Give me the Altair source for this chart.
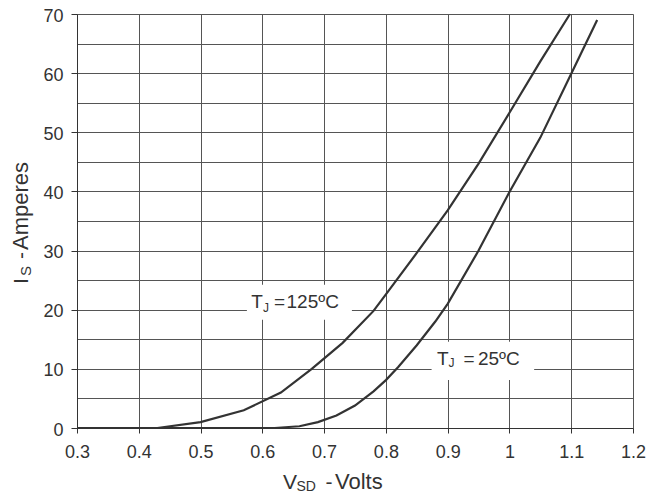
import altair as alt
import pandas as pd

# ---- data ----
v125 = [0.30, 0.43, 0.50, 0.57, 0.63, 0.68, 0.73, 0.78, 0.80, 0.85, 0.90, 0.95, 1.00, 1.05, 1.098]
i125 = [0.0, 0.0, 1.0, 3.0, 6.0, 10.0, 14.4, 19.8, 22.6, 29.6, 36.8, 44.7, 53.3, 62.0, 70.0]

v25 = [0.30, 0.62, 0.66, 0.69, 0.72, 0.75, 0.78, 0.80, 0.82, 0.85, 0.88, 0.90, 0.95, 1.00, 1.05, 1.10, 1.142]
i25 = [0.0, 0.0, 0.3, 1.0, 2.1, 3.8, 6.2, 8.1, 10.3, 14.0, 18.0, 21.0, 30.0, 39.9, 49.1, 59.9, 69.0]

x_ticks = [0.3, 0.4, 0.5, 0.6, 0.7, 0.8, 0.9, 1.0, 1.1, 1.2]
y_ticks = [0, 5, 10, 15, 20, 25, 30, 35, 40, 45, 50, 55, 60, 65, 70]

# curve annotations (pieces for subscripts)
ann_text = ["T", "J", "=", "125ºC", "T", "J", "=", "25ºC"]
ann_v = [0.5821, 0.6009, 0.6190, 0.6392, 0.8827, 0.9012, 0.9255, 0.9490]
ann_i = [20.24, 19.67, 20.24, 20.24, 10.65, 10.37, 10.65, 10.65]
ann_size = [19, 12, 19, 19, 19, 12, 19, 19]

# white boxes behind annotations
box_v1 = [0.575, 0.874]
box_v2 = [0.745, 1.040]
box_i1 = [18.3, 8.1]
box_i2 = [24.2, 14.6]

# axis title pieces
xt_text = ["V", "SD", "-", "Volts"]
xt_px = [206, 219.5, 248.5, 258]
xt_py = [474.5, 477, 474.5, 474.5]
xt_size = [21, 14, 21, 22]

yt_text = ["I", "S", "-", "Amperes"]
yt_px = [-49.3, -46.3, -49.3, -49.3]
yt_py = [270, 262, 245, 236]
yt_size = [21, 15, 21, 22]

FONT = "Liberation Sans"
TXT = "#333333"

curves = pd.DataFrame({
    "v": v125 + v25,
    "i": i125 + i25,
    "s": ["125"] * len(v125) + ["25"] * len(v25),
})
ann = pd.DataFrame({"v": ann_v, "i": ann_i, "t": ann_text, "sz": ann_size})
boxes = pd.DataFrame({"v": box_v1, "v2": box_v2, "i": box_i1, "i2": box_i2})
xt = pd.DataFrame({"px": xt_px, "py": xt_py, "t": xt_text, "sz": xt_size})
yt = pd.DataFrame({"px": yt_px, "py": yt_py, "t": yt_text, "sz": yt_size})

xs = alt.Scale(domain=[0.3, 1.2], nice=False, zero=False)
ys = alt.Scale(domain=[0, 70], nice=False, zero=False)

x_axis = alt.Axis(
    values=x_ticks, format="~g", title=None, grid=True,
    gridColor="#555555", gridWidth=1, tickSize=5, tickColor="#333333",
    domainColor="#333333", labelFontSize=18, labelFont=FONT, labelColor=TXT,
    labelPadding=10, labelFlush=False,
)
y_axis = alt.Axis(
    values=y_ticks, title=None, grid=True,
    labelExpr="datum.value % 10 === 0 ? datum.label : ''",
    tickOpacity={"condition": {"test": "datum.value % 10 === 0", "value": 1}, "value": 0},
    gridColor="#555555", gridWidth=1, tickSize=6, tickColor="#333333",
    domainColor="#333333", labelFontSize=18, labelFont=FONT, labelColor=TXT,
    labelPadding=8, labelFlush=False, labelOffset=2,
)

X = alt.X("v:Q", scale=xs, axis=x_axis)
Y = alt.Y("i:Q", scale=ys, axis=y_axis)

lines = alt.Chart(curves).mark_line(color="#333333", strokeWidth=2.2).encode(
    x=X, y=Y, detail="s:N", order=alt.Order("v:Q")
)

masks = alt.Chart(boxes).mark_rect(fill="white").encode(
    x=X, x2="v2:Q", y=Y, y2="i2:Q"
)

labels = alt.Chart(ann).mark_text(
    align="left", baseline="alphabetic", font=FONT, color=TXT
).encode(
    x=X, y=Y, text="t:N", size=alt.Size("sz:Q", scale=None, legend=None)
)

xtitle = alt.Chart(xt).mark_text(
    align="left", baseline="alphabetic", font=FONT, color=TXT
).encode(
    x=alt.X("px:Q", scale=None), y=alt.Y("py:Q", scale=None),
    text="t:N", size=alt.Size("sz:Q", scale=None, legend=None)
)

ytitle = alt.Chart(yt).mark_text(
    align="left", baseline="alphabetic", font=FONT, color=TXT, angle=270
).encode(
    x=alt.X("px:Q", scale=None), y=alt.Y("py:Q", scale=None),
    text="t:N", size=alt.Size("sz:Q", scale=None, legend=None)
)

chart = alt.layer(masks, labels, lines, xtitle, ytitle).properties(
    width=556, height=414,
    autosize=alt.AutoSizeParams(type="none"),
    padding={"left": 69, "top": 6, "right": 14, "bottom": 64},
).configure_view(stroke="#333333", strokeWidth=1).configure(background="white")

chart.save("out.html", embed_options={"renderer": "svg", "actions": False})
